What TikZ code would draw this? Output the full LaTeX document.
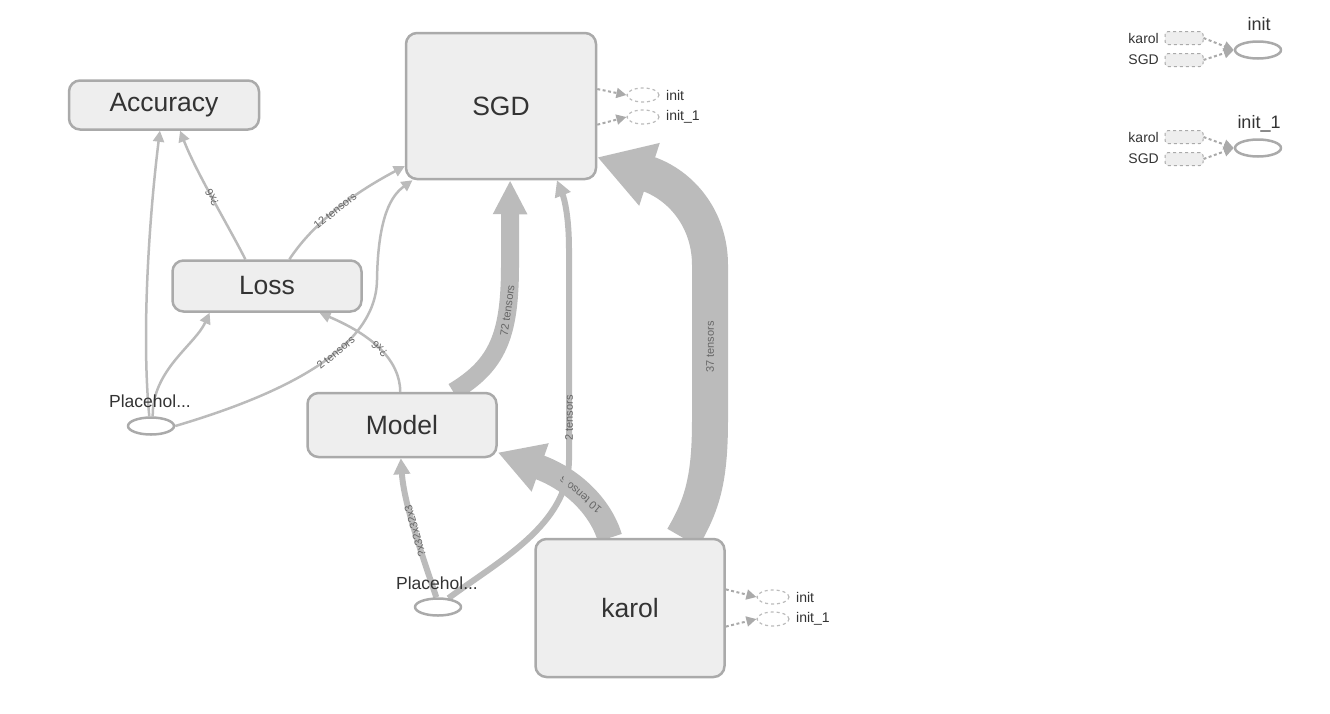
\documentclass[tikz,border=0pt]{standalone}
\usepackage{fontspec}
\setmainfont{Liberation Sans}
\usetikzlibrary{arrows.meta,calc,shapes.geometric,backgrounds}

\definecolor{opfill}{HTML}{EEEEEE}
\definecolor{opline}{HTML}{AAAAAA}
\definecolor{flow}{HTML}{BBBBBB}
\definecolor{ink}{HTML}{333333}
\definecolor{tag}{HTML}{666666}

\begin{document}
\begin{tikzpicture}[x=1pt, y=-1pt, line join=round,
  opbox/.style={draw=opline, fill=opfill, line width=2.5pt, rounded corners=11pt, inner sep=0pt, text=ink, font=\fontsize{26.5}{30}\selectfont},
  phnode/.style={draw=opline, ellipse, line width=2.5pt, minimum width=46pt, minimum height=17pt, inner sep=0pt},
  phlabel/.style={text=ink, inner sep=0pt, font=\fontsize{17.5}{20}\selectfont},
  flowline/.style={draw=flow, line width=#1},
  tensortag/.style={sloped, allow upside down, text=tag, inner sep=1pt, font=\fontsize{11}{12}\selectfont},
  tipsmall/.style={-{Triangle[length=11pt,width=11pt]}},
  tipmed/.style={-{Triangle[length=16pt,width=16pt]}},
  tipmid/.style={-{Triangle[length=34pt,width=32pt]}},
  tipbig/.style={-{Triangle[length=45pt,width=48pt]}},
  tiphuge/.style={-{Triangle[length=55pt,width=62pt]}},
  ctrl/.style={draw=opline, line width=2pt, dash pattern=on 3pt off 2.5pt, -{Triangle[length=10pt,width=10pt]}},
  ctrlstub/.style={draw=flow, dashed, ellipse, line width=1.2pt, minimum width=32pt, minimum height=14pt, inner sep=0pt},
  stubbox/.style={draw=opline, dashed, fill=opfill, rounded corners=3pt, line width=1pt, minimum width=38pt, minimum height=13pt, inner sep=0pt},
  stubtext/.style={text=ink, inner sep=0pt, font=\fontsize{14}{16}\selectfont}]

  \useasboundingbox (0,0) rectangle (1330,713);

  % main ops
  \node[opbox, minimum width=190pt, minimum height=49pt] (acc) at (164,105) {Accuracy};
  \node[opbox, minimum width=190pt, minimum height=146pt] (sgd) at (501,106) {SGD};
  \node[opbox, minimum width=189pt, minimum height=51pt] (loss) at (267,286) {Loss};
  \node[opbox, minimum width=189pt, minimum height=64pt] (model) at (402,425) {Model};
  \node[opbox, minimum width=189pt, minimum height=138pt] (karol) at (630,608) {karol};

  % placeholders
  \node[phnode] (ph1) at (151,426) {};
  \node[phlabel] (ph1lbl) at (150,401) {Placehol...};
  \node[phnode] (ph2) at (438,607) {};
  \node[phlabel] (ph2lbl) at (437,583) {Placehol...};

  % control outputs
  \node[ctrlstub] (sgdinit) at (643,95) {};
  \node[ctrlstub] (sgdinitb) at (643,117) {};
  \node[stubtext, anchor=west] (sgdinitlbl) at (666,95) {init};
  \node[stubtext, anchor=west] (sgdinitblbl) at (666,117) {init\_1};
  \node[ctrlstub] (karinit) at (773,597) {};
  \node[ctrlstub] (karinitb) at (773,619) {};
  \node[stubtext, anchor=west] (karinitlbl) at (796,597) {init};
  \node[stubtext, anchor=west] (karinitblbl) at (796,619) {init\_1};
  \draw[ctrl] (sgd.10) -- (sgdinit.west);
  \draw[ctrl] (sgd.349) -- (sgdinitb.west);
  \draw[ctrl] (karol.11) -- (karinit.west);
  \draw[ctrl] (karol.349) -- (karinitb.west);

  % init groups
  \node[phnode] (init) at (1258,50) {};
  \node[phlabel, font=\fontsize{18}{20}\selectfont] (initlbl) at (1259,24) {init};
  \node[stubbox] (initk) at (1184,38) {};
  \node[stubbox] (inits) at (1184,60) {};
  \node[stubtext, anchor=east] (initklbl) at (1159,38) {karol};
  \node[stubtext, anchor=east] (initslbl) at (1159,60) {SGD};
  \draw[ctrl] (initk.east) -- (init.west);
  \draw[ctrl] (inits.east) -- (init.west);

  \node[phnode] (initb) at (1258,148) {};
  \node[phlabel, font=\fontsize{18}{20}\selectfont] (initblbl) at (1259,124) {init\_1};
  \node[stubbox] (initbk) at (1184,137) {};
  \node[stubbox] (initbs) at (1184,159) {};
  \node[stubtext, anchor=east] (initbklbl) at (1159,137) {karol};
  \node[stubtext, anchor=east] (initbslbl) at (1159,159) {SGD};
  \draw[ctrl] (initbk.east) -- (initb.west);
  \draw[ctrl] (initbs.east) -- (initb.west);

  % data flow
  \begin{scope}[on background layer]
    \draw[flowline=2.5pt, tipsmall] (ph1.100) .. controls (141,330) and (150,210) .. (acc.261);
    \draw[flowline=2.5pt, tipsmall] (ph1.80) .. controls (152,370) and (195,345) .. (loss.205);
    \draw[flowline=2.5pt, tipsmall] (ph1.east) .. controls (280,395) and (376,350) .. node[tensortag, pos=0.6] {2 tensors} (377,280) .. controls (378,215) and (392,195) .. (sgd.220);
    \draw[flowline=2.5pt, tipsmall] (loss.129) .. controls (228,225) and (196,172) .. node[tensortag] {?x6} (acc.302);
    \draw[flowline=2.5pt, tipsmall] (loss.50) .. controls (312,225) and (350,195) .. node[tensortag] {12 tensors} (sgd.212);
    \draw[flowline=2.5pt, tipsmall] (model.93) .. controls (400,360) and (372,335) .. node[tensortag] {?x6} (loss.333);
    \draw[flowline=18pt, tipmid] (model.33) .. controls (498,365) and (510,335) .. node[tensortag, pos=0.75] {72 tensors} (510,265) -- (sgd.277);
    \draw[flowline=6pt, tipmed] (ph2.100) .. controls (424,560) and (404,505) .. node[tensortag, pos=0.5] {?x32x32x3} (model.268);
    \draw[flowline=25pt, tipbig] (karol.106) .. controls (600,505) and (570,478) .. node[tensortag, pos=0.47] {10 tensors} (model.344);
    \draw[flowline=6pt, tipmed] (ph2.40) .. controls (500,560) and (568,525) .. (569,460) -- node[tensortag, pos=0.2] {2 tensors} (569,250) .. controls (569,215) and (564,198) .. (sgd.307);
    \draw[flowline=36pt, tiphuge] (karol.53) .. controls (702,505) and (710,480) .. (710,420) -- node[tensortag, pos=0.47] {37 tensors} (710,265) .. controls (710,220) and (682,185) .. (sgd.332);
  \end{scope}
\end{tikzpicture}
\end{document}
